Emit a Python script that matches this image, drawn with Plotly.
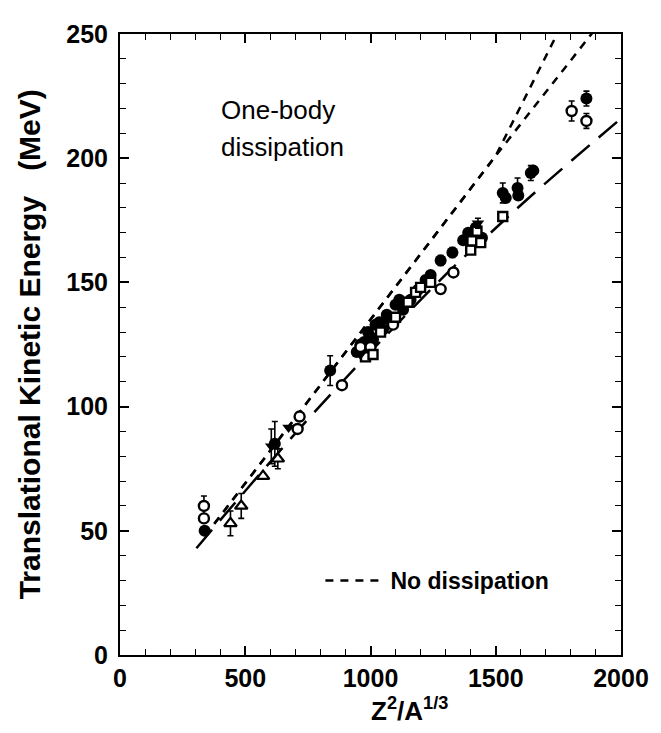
import plotly.graph_objects as go

# ---------------- data ----------------
fc_x = [338, 618, 839, 945, 960, 975, 985, 990, 1000, 1010, 1020, 1035, 1050, 1065, 1075, 1100, 1115, 1130, 1160, 1190, 1220, 1240,
        1280, 1327, 1370, 1390, 1420, 1445, 1528, 1540, 1587, 1590, 1640, 1650, 1862]
fc_y = [50, 85, 114.5, 122, 125, 126, 124, 130, 128, 127, 133, 134, 131, 137, 135, 141, 143, 139, 143, 147, 151, 153,
        158.8, 162, 167, 170, 172, 168, 186, 184, 188, 185, 194, 195, 224]
fc_e = [0, 9, 6, 0, 0, 0, 0, 0, 0, 0, 0, 0, 0, 0, 0, 0, 0, 0, 0, 0, 0, 0,
        2, 2, 0, 0, 0, 0, 4, 0, 4, 0, 3, 0, 3]

oc_x = [335, 335, 709, 717, 886, 960, 1000, 1090, 1280, 1331, 1803, 1862]
oc_y = [60, 55, 91, 96, 108.6, 124, 124, 133, 147.3, 154, 219, 215]
oc_e = [4, 0, 0, 0, 0, 0, 0, 0, 0, 0, 4, 3]

os_x = [980, 1010, 1040, 1100, 1150, 1180, 1200, 1240, 1400, 1405, 1425, 1440, 1528]
os_y = [120, 121, 130, 136, 142, 146, 148, 150, 163, 166.7, 170.6, 166, 176.5]

ot_x = [441, 484, 571, 630]
ot_y = [53, 60, 72, 79]
ot_e = [5, 5, 0, 4]

ft_x = [604, 673, 960, 1429]
ft_y = [84, 91.6, 121, 173.8]
ft_e = [7, 0, 0, 2]

# theory curves
nodiss_a_x = [340, 1500, 1745]
nodiss_a_y = [48, 201, 250]
nodiss_b_x = [340, 1500, 1890]
nodiss_b_y = [48, 201, 251]
onebody_x = [305, 787, 1299, 1469, 1654, 2000]
onebody_y = [43, 99, 153, 169, 186, 216]

x_ticks = [0, 500, 1000, 1500, 2000]
y_ticks = [0, 50, 100, 150, 200, 250]

FONT = "Liberation Sans, Arial, sans-serif"

fig = go.Figure()

# theory lines
fig.add_trace(go.Scatter(x=onebody_x, y=onebody_y, mode="lines", line=dict(color="black", width=2.5, dash="24px,12px", shape="spline"),
                         showlegend=False, hoverinfo="skip"))
fig.add_trace(go.Scatter(x=nodiss_a_x, y=nodiss_a_y, mode="lines", line=dict(color="black", width=2.5, dash="8px,7px"),
                         showlegend=False, hoverinfo="skip"))
fig.add_trace(go.Scatter(x=nodiss_b_x, y=nodiss_b_y, mode="lines", line=dict(color="black", width=2.5, dash="8px,7px"),
                         name="No dissipation", showlegend=True, hoverinfo="skip"))

err = dict(type="data", symmetric=True, color="black", thickness=1.6, width=3)

fig.add_trace(go.Scatter(x=fc_x, y=fc_y, mode="markers", showlegend=False,
                         error_y=dict(err, array=fc_e),
                         marker=dict(symbol="circle", size=12, color="black")))
fig.add_trace(go.Scatter(x=oc_x, y=oc_y, mode="markers", showlegend=False,
                         error_y=dict(err, array=oc_e),
                         marker=dict(symbol="circle", size=10, color="white", line=dict(width=2.4, color="black"))))
fig.add_trace(go.Scatter(x=os_x, y=os_y, mode="markers", showlegend=False,
                         marker=dict(symbol="square", size=9, color="white", line=dict(width=2.4, color="black"))))
fig.add_trace(go.Scatter(x=ot_x, y=ot_y, mode="markers", showlegend=False,
                         error_y=dict(err, array=ot_e),
                         marker=dict(symbol="triangle-up", size=11, color="white", line=dict(width=2.2, color="black"))))
fig.add_trace(go.Scatter(x=ft_x, y=ft_y, mode="markers", showlegend=False,
                         error_y=dict(err, array=ft_e),
                         marker=dict(symbol="triangle-down", size=11, color="black")))

axis_common = dict(showline=True, linecolor="black", linewidth=2, mirror="ticks",
                   ticks="inside", ticklen=9, tickwidth=1.5, tickcolor="black",
                   showgrid=False, zeroline=False, ticklabeloverflow="allow",
                   tickfont=dict(family=FONT, size=25, color="black", weight="bold"))

fig.update_xaxes(range=[0, 2000], tickvals=x_ticks, ticktext=[str(v) for v in x_ticks],
                 minor=dict(dtick=100, tick0=0, ticks="inside", ticklen=6, tickcolor="black", tickwidth=1.2),
                 **axis_common)
fig.update_yaxes(range=[0, 250], tickvals=y_ticks, ticktext=[str(v) for v in y_ticks],
                 minor=dict(dtick=10, tick0=0, ticks="inside", ticklen=6, tickcolor="black", tickwidth=1.2),
                 ticklabelstandoff=5,
                 **axis_common)

fig.add_annotation(x=-0.18, y=0.5, xref="paper", yref="paper", textangle=-90,
                   xanchor="center", yanchor="middle",
                   text="Translational Kinetic Energy&nbsp;&nbsp;&nbsp;(MeV)", showarrow=False,
                   font=dict(family=FONT, size=30, color="black", weight="bold"))
fig.add_annotation(x=0.577, y=-0.087, xref="paper", yref="paper", xanchor="center", yanchor="middle",
                   text="Z<sup>2</sup>/A<sup>1/3</sup>", showarrow=False,
                   font=dict(family=FONT, size=26, color="black", weight="bold"))
fig.add_annotation(x=0.198, y=0.878, xref="paper", yref="paper", xanchor="left", yanchor="middle",
                   text="One-body", showarrow=False,
                   font=dict(family=FONT, size=26, color="black"))
fig.add_annotation(x=0.198, y=0.818, xref="paper", yref="paper", xanchor="left", yanchor="middle",
                   text="dissipation", showarrow=False,
                   font=dict(family=FONT, size=26, color="black"))

fig.update_layout(width=653, height=725, margin=dict(l=112, r=33, t=14, b=78),
                  paper_bgcolor="white", plot_bgcolor="white",
                  legend=dict(x=0.40, y=0.12, xanchor="left", yanchor="middle", bgcolor="rgba(0,0,0,0)",
                              itemwidth=60,
                              font=dict(family=FONT, size=23, color="black", weight="bold")))

fig.write_html("out.html")
